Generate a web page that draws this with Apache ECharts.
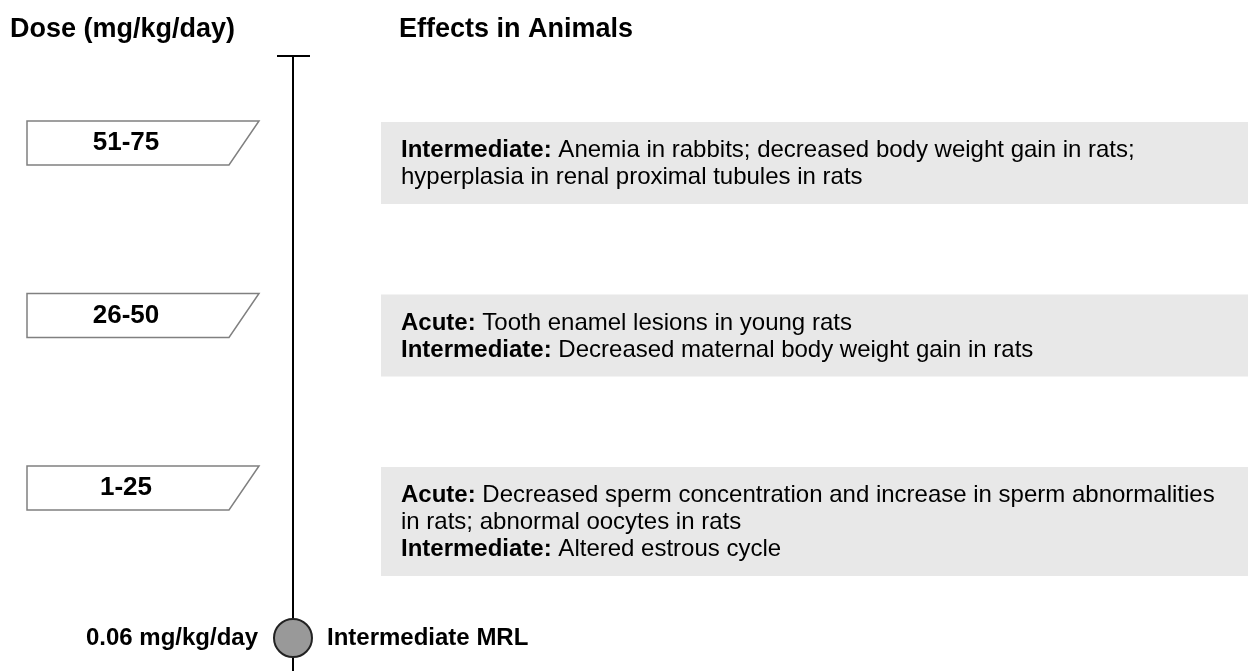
<!DOCTYPE html>
<html>
<head>
<meta charset="utf-8">
<script src="https://cdn.jsdelivr.net/npm/echarts@6/dist/echarts.min.js"></script>
<style>
  html, body { margin: 0; padding: 0; background: #fff; }
  #doseEffectsChart { width: 1248px; height: 671px; }
</style>
</head>
<body>
<div id="doseEffectsChart"></div>
<script>
// rows are listed from the bottom of the timeline to the top
const doseRanges = ['1-25', '26-50', '51-75']
const acuteEffects = [
  'Decreased sperm concentration and increase in sperm abnormalities\nin rats; abnormal oocytes in rats',
  'Tooth enamel lesions in young rats',
  ''
]
const intermediateEffects = [
  'Altered estrous cycle',
  'Decreased maternal body weight gain in rats',
  'Anemia in rabbits; decreased body weight gain in rats;\nhyperplasia in renal proximal tubules in rats'
]
const mrlDose = '0.06 mg/kg/day'
const mrlLabel = 'Intermediate MRL'
const headers = ['Dose (mg/kg/day)', 'Effects in Animals']

const FONT = '"Liberation Sans", Arial, sans-serif'
const LINE_X = 293

const effectText = (i) => {
  const parts = []
  if (acuteEffects[i]) parts.push('{b|Acute:} ' + acuteEffects[i])
  if (intermediateEffects[i]) parts.push('{b|Intermediate:} ' + intermediateEffects[i])
  return parts.join('\n')
}

const renderRow = (params, api) => {
  const idx = api.value(1)
  const y = api.coord([0, idx])[1]
  const x = (v) => api.coord([v, idx])[0]
  const text = effectText(idx)
  const lines = text.split('\n').length
  const boxTop = y - 21
  return {
    type: 'group',
    children: [
      {
        type: 'polygon',
        shape: { points: [[x(27), y - 22], [x(259), y - 22], [x(229), y + 22], [x(27), y + 22]] },
        style: { fill: '#fff', stroke: '#808080', lineWidth: 1.5 }
      },
      {
        type: 'text',
        style: {
          text: doseRanges[idx], x: x(126), y: y, align: 'center', verticalAlign: 'middle',
          fontSize: 26, fontWeight: 'bold', fontFamily: FONT, fill: '#000'
        }
      },
      {
        type: 'rect',
        shape: { x: x(381), y: boxTop, width: x(1248) - x(381), height: 27 * lines + 28 },
        style: { fill: '#e8e8e8' }
      },
      {
        type: 'text',
        style: {
          text: text, x: x(401), y: boxTop + 15, verticalAlign: 'top',
          fontSize: 24, fontFamily: FONT, lineHeight: 27, fill: '#000',
          rich: {
            b: { fontSize: 24, fontWeight: 'bold', fontFamily: FONT, lineHeight: 27, fill: '#000' }
          }
        }
      }
    ]
  }
}

const renderTimeline = (params, api) => {
  const topY = api.coord([0, doseRanges.length - 1])[1] - 87
  const mrlY = api.coord([0, 0])[1] + 150
  const x = (v) => api.coord([v, 0])[0]
  return {
    type: 'group',
    children: [
      { type: 'line', shape: { x1: x(LINE_X), y1: topY, x2: x(LINE_X), y2: api.getHeight() }, style: { stroke: '#000', lineWidth: 2 } },
      { type: 'line', shape: { x1: x(277), y1: topY, x2: x(310), y2: topY }, style: { stroke: '#000', lineWidth: 2 } },
      { type: 'circle', shape: { cx: x(LINE_X), cy: mrlY, r: 19 }, style: { fill: '#999', stroke: '#222', lineWidth: 2 } },
      {
        type: 'text',
        style: { text: mrlDose, x: x(258), y: mrlY, align: 'right', verticalAlign: 'middle', fontSize: 24, fontWeight: 'bold', fontFamily: FONT, fill: '#000' }
      },
      {
        type: 'text',
        style: { text: mrlLabel, x: x(327), y: mrlY, align: 'left', verticalAlign: 'middle', fontSize: 24, fontWeight: 'bold', fontFamily: FONT, fill: '#000' }
      }
    ]
  }
}

const headerStyle = { fontSize: 27, fontWeight: 'bold', fontFamily: FONT, color: '#000' }

const doseEffectsChart = echarts.init(document.getElementById('doseEffectsChart'))
const doseEffectsOption = {
  animation: false,
  title: [
    { text: headers[0], left: 10, top: 16, padding: 0, textStyle: headerStyle },
    { text: headers[1], left: 399, top: 16, padding: 0, textStyle: headerStyle }
  ],
  grid: { left: 0, right: 0, top: 143, bottom: 183 },
  xAxis: { type: 'value', min: 0, max: 1248, show: false },
  yAxis: { type: 'category', data: doseRanges, boundaryGap: false, show: false },
  series: [
    {
      type: 'custom',
      clip: false,
      renderItem: renderTimeline,
      data: [[0, 0]],
      encode: { x: 0, y: 1 }
    },
    {
      type: 'custom',
      clip: false,
      renderItem: renderRow,
      data: doseRanges.map((d, i) => [0, i]),
      encode: { x: 0, y: 1 }
    }
  ]
}
doseEffectsChart.setOption(doseEffectsOption)
</script>
</body>
</html>
